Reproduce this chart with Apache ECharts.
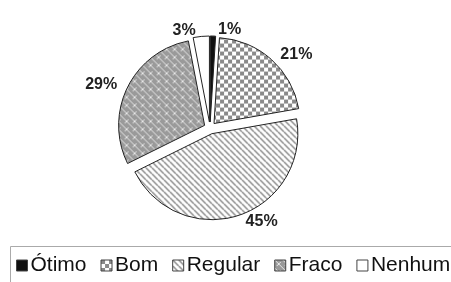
<!DOCTYPE html>
<html><head><meta charset="utf-8">
<script src="https://cdn.jsdelivr.net/npm/echarts@6/dist/echarts.min.js"></script>
<style>html,body{margin:0;padding:0;background:#fff}#c{width:451px;height:282px}</style>
</head><body><div id="c"></div>
<script>
const categories = ['Ótimo', 'Bom', 'Regular', 'Fraco', 'Nenhum'];
const values = [1, 21, 45, 29, 3];

function tile(size, draw) {
  const c = document.createElement('canvas');
  c.width = size; c.height = size;
  const g = c.getContext('2d');
  draw(g, size);
  return { image: c, repeat: 'repeat' };
}
const fills = [
  '#111',
  tile(8, (g, s) => { g.fillStyle = '#fff'; g.fillRect(0, 0, s, s); g.fillStyle = '#8a8a8a'; g.fillRect(0, 0, 4, 4); g.fillRect(4, 4, 4, 4); }),
  tile(6, (g, s) => { g.fillStyle = '#fff'; g.fillRect(0, 0, s, s); g.strokeStyle = '#8c8c8c'; g.lineWidth = 1.5;
    for (let k = -1; k <= 1; k++) { g.beginPath(); g.moveTo(k * s, 0); g.lineTo(k * s + s, s); g.stroke(); } }),
  tile(8, (g, s) => { g.fillStyle = '#9a9a9a'; g.fillRect(0, 0, s, s); g.strokeStyle = '#e8e8e8'; g.lineWidth = 1;
    for (let k = -1; k <= 1; k++) { g.beginPath(); g.moveTo(k * s, 0); g.lineTo(k * s + s, s); g.stroke(); }
    g.beginPath(); g.moveTo(2, 6); g.lineTo(6, 2); g.stroke(); }),
  '#fff'
];

const chart = echarts.init(document.getElementById('c'));
chart.setOption({
  animation: false,
  graphic: [{ type: 'rect', shape: { x: 10.5, y: 246.5, width: 460, height: 60 }, style: { fill: 'none', stroke: '#aaa', lineWidth: 1 } }],
  legend: {
    top: 255, left: 16, width: 435, padding: 0, itemWidth: 11, itemHeight: 11, itemGap: 14,
    icon: 'rect', selectedMode: false,
    textStyle: { fontFamily: 'Liberation Sans', fontSize: 21, color: '#111', padding: [0, 0, 0, -2] },
    itemStyle: { borderColor: '#444', borderWidth: 1 },
    data: categories
  },
  series: [{
    type: 'pie', center: [210, 128], radius: 86, startAngle: 90, clockwise: true,
    selectedMode: 'multiple', selectedOffset: 6,
    itemStyle: { borderColor: '#222', borderWidth: 1 },
    label: { position: 'outside', fontFamily: 'Liberation Sans', fontWeight: 'bold', fontSize: 16, color: '#222', formatter: '{c}%' },
    labelLine: { show: false, length: 6, length2: 0 },
    emphasis: { disabled: true },
    data: categories.map((n, i) => ({ name: n, value: values[i], selected: true, itemStyle: { color: fills[i] } }))
  }]
});
</script></body></html>
